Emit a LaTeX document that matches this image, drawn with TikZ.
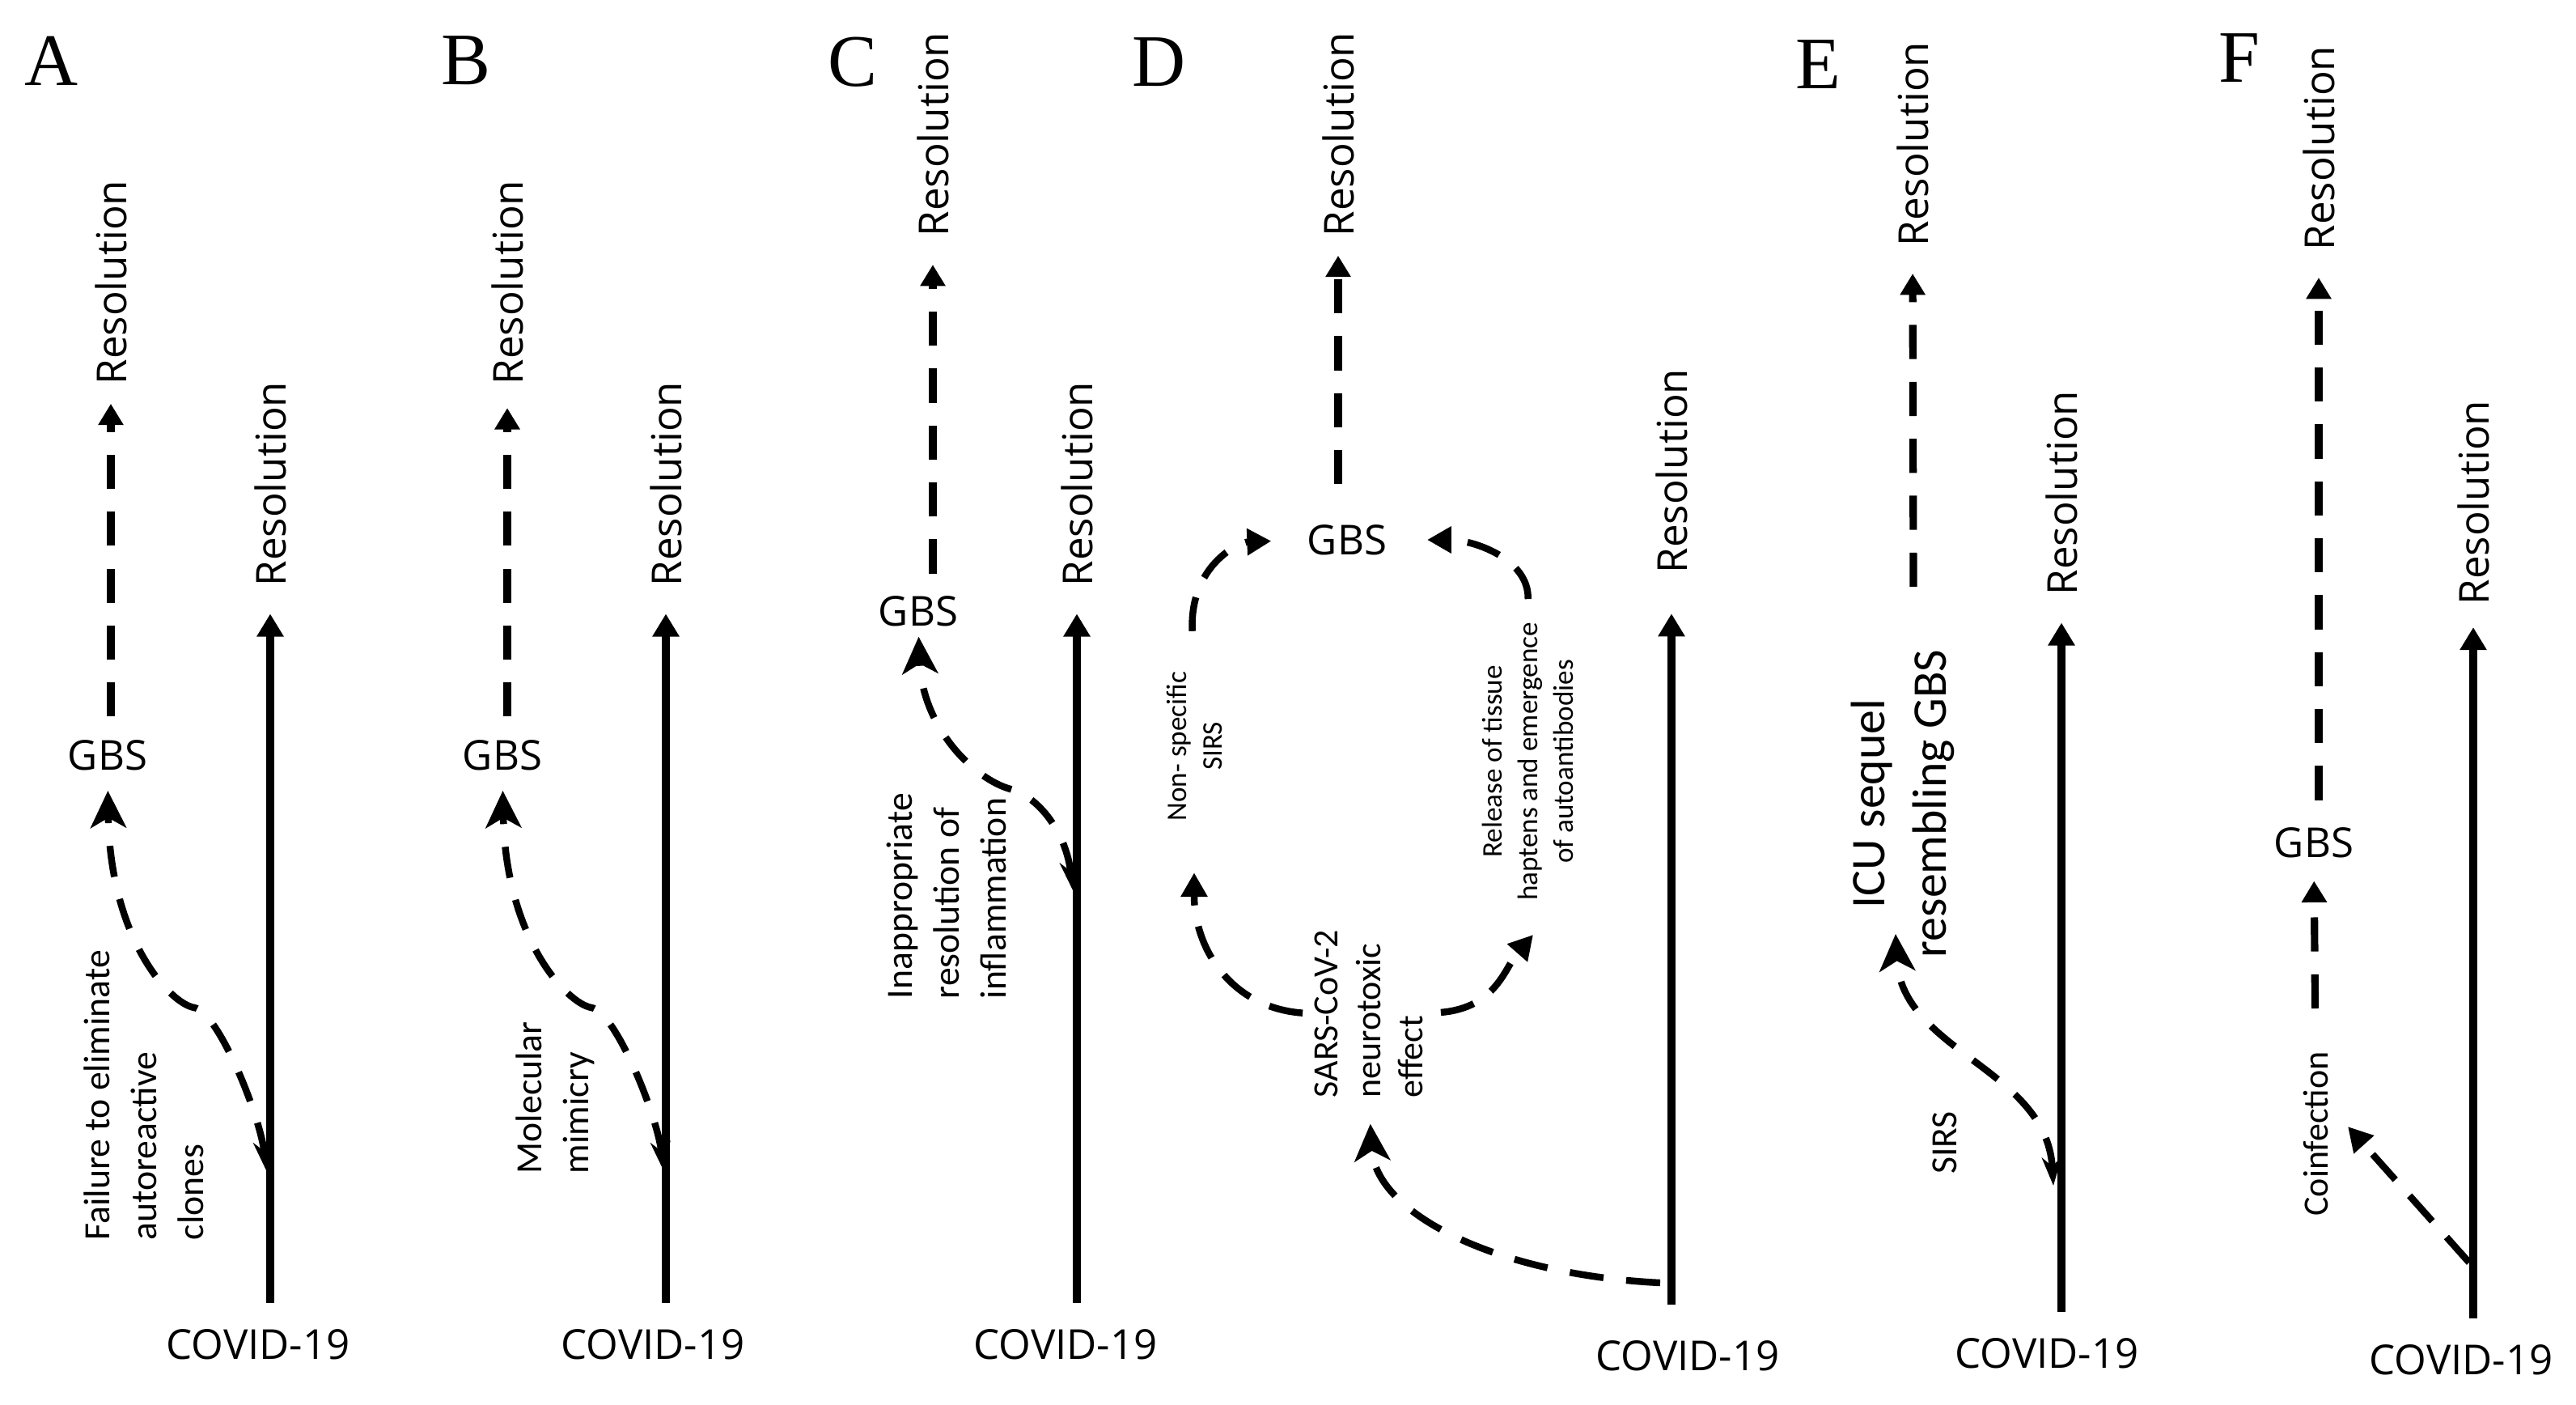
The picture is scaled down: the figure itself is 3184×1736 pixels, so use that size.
\documentclass[tikz,border=0pt]{standalone}
\usepackage{fontspec}
\setmainfont{Carlito}
\newfontfamily\labfont{Open Sans}
\newfontfamily\letterfont{Liberation Serif}
\usetikzlibrary{arrows.meta}

\begin{document}
\begin{tikzpicture}[x=0.01cm, y=-0.01cm,
  panel/.style={font=\letterfont\fontsize{26}{28}\selectfont, inner sep=0pt},
  gbs/.style={font=\labfont\fontsize{14.5}{17}\selectfont, inner sep=0pt},
  covid/.style={font=\labfont\fontsize{14.5}{17}\selectfont, inner sep=0pt},
  res/.style={font=\labfont\fontsize{14.5}{17}\selectfont, rotate=90, anchor=west, inner sep=0pt},
  note/.style={font=\fontsize{13}{16.5}\selectfont, rotate=90, anchor=west, align=left, inner sep=0pt},
  word/.style={font=\fontsize{13}{16}\selectfont, rotate=90, inner sep=0pt},
  smallnote/.style={font=\fontsize{10}{12.5}\selectfont, rotate=90, align=center, inner sep=0pt},
  solidarr/.style={line width=2.8pt, -{Triangle[length=8pt,width=9pt]}, shorten <=9pt, shorten >=9.5pt},
  dasharr/.style={line width=2.6pt, dash pattern=on 12pt off 8pt, -{Triangle[length=7.5pt,width=8.5pt]}},
  curvarr/.style={line width=2.4pt, dash pattern=on 11pt off 8pt, {Stealth[length=10pt,width=7pt]}-{Stealth[length=13pt,width=12.5pt,inset=3.5pt]}},
  bigarr/.style={line width=2.4pt, dash pattern=on 12pt off 8pt, -{Stealth[length=13pt,width=12.5pt,inset=3.5pt]}},
  cycarr/.style={line width=2.4pt, dash pattern=on 12pt off 7.5pt, -{Triangle[length=8.5pt,width=9pt]}}]

  \path[use as bounding box, fill=white] (0,0) rectangle (3184,1736);

  % A
  \node[panel] (labA) at (64,75) {A};
  \node[res] (resA1) at (137,476) {Resolution};
  \node[gbs] (gbsA) at (133,933) {GBS};
  \node[note] (failA) at (178,1533) {Failure to eliminate\\autoreactive\\clones};
  \node[res] (resA2) at (334,725) {Resolution};
  \node[covid] (covA) at (319,1661) {COVID-19};
  \coordinate (a1) at (329,1446);

  % B
  \node[panel] (labB) at (576,75) {B};
  \node[res] (resB1) at (627,476) {Resolution};
  \node[gbs] (gbsB) at (621,933) {GBS};
  \node[note] (moleB) at (686,1451) {Molecular\\mimicry};
  \node[res] (resB2) at (823,725) {Resolution};
  \node[covid] (covB) at (807,1661) {COVID-19};
  \coordinate (b1) at (820,1446);

  % C
  \node[panel] (labC) at (1054,77) {C};
  \node[res] (resC1) at (1153,293) {Resolution};
  \node[gbs] (gbsC) at (1135,755) {GBS};
  \node[note] (inapC) at (1170,1235) {Inappropriate\\resolution of\\inflammation};
  \node[res] (resC2) at (1331,725) {Resolution};
  \node[covid] (covC) at (1317,1661) {COVID-19};
  \coordinate (c1) at (1326,1100);

  % D
  \node[panel] (labD) at (1433,77) {D};
  \node[res] (resD1) at (1654,293) {Resolution};
  \node[gbs] (gbsD) at (1665,667) {GBS};
  \node[smallnote] (nsD) at (1476,922) {Non- specific\\SIRS};
  \node[smallnote] (relD) at (1888,941) {Release of tissue\\haptens and emergence\\of autoantibodies};
  \node[note, font=\fontsize{12.5}{15}\selectfont] (sarsD) at (1692,1357) {SARS-CoV-2\\neurotoxic\\effect};
  \node[res] (resD2) at (2066,709) {Resolution};
  \node[covid] (covD) at (2086,1675) {COVID-19};
  \coordinate (d0) at (2052,1585);
  \coordinate (d4) at (1895,1155);

  % E
  \node[panel] (labE) at (2247,80) {E};
  \node[res] (resE1) at (2364,305) {Resolution};
  \node[rotate=90, align=center, inner sep=0pt, font=\fontsize{17}{21.5}\selectfont] (icuE) at (2352,993) {ICU sequel\\resembling GBS};
  \node[word] (sirsE) at (2404,1412) {SIRS};
  \node[res] (resE2) at (2548,736) {Resolution};
  \node[covid] (covE) at (2530,1672) {COVID-19};
  \coordinate (e1) at (2538,1465);
  \coordinate (e2) at (2343,1154);
  \coordinate (e3) at (2365,725);

  % F
  \node[panel] (labF) at (2768,72) {F};
  \node[res] (resF1) at (2866,310) {Resolution};
  \node[gbs] (gbsF) at (2860,1041) {GBS};
  \node[word, font=\fontsize{12.5}{15}\selectfont] (coinF) at (2862,1401) {Coinfection};
  \node[res] (resF2) at (3057,748) {Resolution};
  \node[covid] (covF) at (3042,1680) {COVID-19};
  \coordinate (f1) at (3052,1560);
  \coordinate (f2) at (2902,1392);

  % dashed routes
  \draw[dasharr, shorten <=8pt, shorten >=6.5pt] (resA1.west |- gbsA.north) -- (resA1.west);
  \draw[curvarr, shorten >=7pt] (a1) .. controls (322,1380) and (270,1250) .. (240,1245)
    .. controls (210,1240) and (136,1160) .. (gbsA.south);

  \draw[dasharr, shorten <=8pt, shorten >=8pt] (resB1.west |- gbsB.north) -- (resB1.west);
  \draw[curvarr, shorten >=7pt] (b1) .. controls (813,1380) and (761,1250) .. (731,1245)
    .. controls (701,1240) and (625,1160) .. (gbsB.south);

  \draw[dasharr, shorten <=7.7pt, shorten >=9.7pt] (resC1.west |- gbsC.north) -- (resC1.west);
  \draw[curvarr, shorten >=3.5pt] (c1) .. controls (1318,1030) and (1285,985) .. (1249,975)
    .. controls (1205,963) and (1140,900) .. (gbsC.south);

  \draw[dasharr, shorten <=14pt, shorten >=6.5pt] (resD1.west |- gbsD.north) -- (resD1.west);
  \draw[cycarr, shorten <=4pt, shorten >=18pt] (sarsD.north) .. controls (1520,1245) and (1476,1170) .. (nsD.west);
  \draw[cycarr, shorten <=14pt, shorten >=12.5pt] (nsD.east) .. controls (1470,700) and (1530,670) .. (gbsD.west);
  \draw[cycarr, shorten <=8pt, shorten >=14pt] (relD.east) .. controls (1890,690) and (1820,667) .. (gbsD.east);
  \draw[cycarr, shorten <=6pt] (sarsD.south) .. controls (1850,1245) and (1860,1195) .. (d4);
  \draw[bigarr, shorten >=9pt] (d0) .. controls (1850,1575) and (1700,1500) .. (sarsD.west);

  \draw[dasharr, shorten >=9.4pt] (e3) -- (resE1.west);
  \draw[curvarr] (e1) .. controls (2530,1320) and (2350,1300) .. (e2);

  \draw[dasharr, shorten <=9.4pt, shorten >=9.4pt] (resF1.west |- gbsF.north) -- (resF1.west);
  \draw[dasharr, shorten <=15pt, shorten >=8pt] (coinF.east) -- (gbsF.south);
  \draw[cycarr] (f1) -- (f2);

  % solid routes
  \draw[solidarr] (resA2.west |- covA.north) -- (resA2.west);
  \draw[solidarr] (resB2.west |- covB.north) -- (resB2.west);
  \draw[solidarr] (resC2.west |- covC.north) -- (resC2.west);
  \draw[solidarr, shorten <=12.5pt, shorten >=14pt] (resD2.west |- covD.north) -- (resD2.west);
  \draw[solidarr] (resE2.west |- covE.north) -- (resE2.west);
  \draw[solidarr, shorten >=7.7pt] (resF2.west |- covF.north) -- (resF2.west);
\end{tikzpicture}
\end{document}
